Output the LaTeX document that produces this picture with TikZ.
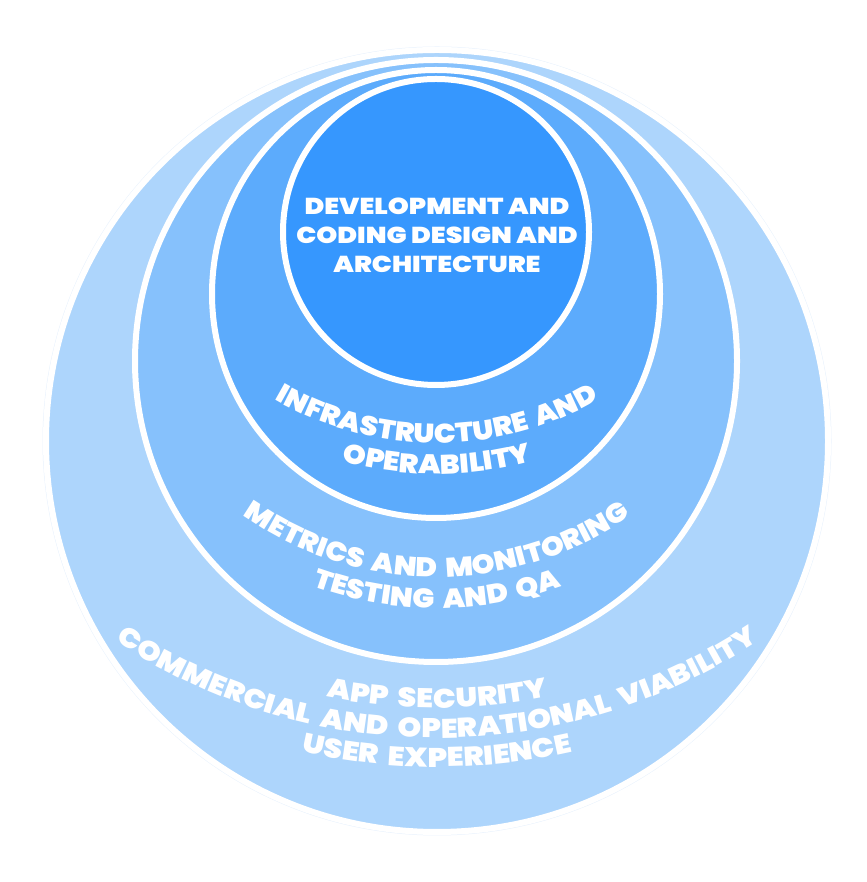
\documentclass[tikz,border=0pt]{standalone}
\usepackage{fontspec}
\IfFontExistsTF{Poppins ExtraBold}
  {\newfontfamily\labelfamily{Poppins ExtraBold}[FakeStretch=1.08,LetterSpace=7,WordSpace=1.3]
   \newfontfamily\bizfamily{Poppins ExtraBold}[FakeStretch=1.12,LetterSpace=9,WordSpace=1.3]
   \newfontfamily\corefamily{Poppins ExtraBold}[FakeStretch=1.16]}
  {\newfontfamily\labelfamily{Poppins}[FakeStretch=1.08,LetterSpace=7,WordSpace=1.3,BoldFeatures={FakeBold=0.6}]
   \newfontfamily\bizfamily{Poppins}[FakeStretch=1.12,LetterSpace=9,WordSpace=1.3,BoldFeatures={FakeBold=0.6}]
   \newfontfamily\corefamily{Poppins}[FakeStretch=1.16,BoldFeatures={FakeBold=0.6}]}
\usepackage{xcolor}
\usepackage{tikz}
\usetikzlibrary{decorations.text}
\definecolor{coreblue}{RGB}{54,151,254}
\definecolor{opsblue}{RGB}{92,171,252}
\definecolor{qablue}{RGB}{134,193,252}
\definecolor{bizblue}{RGB}{173,213,252}
\definecolor{haloblue}{RGB}{232,242,253}
\newcommand{\ringfont}{\labelfamily\bfseries\fontsize{27}{27}\selectfont}
\newcommand{\bizfont}{\bizfamily\bfseries\fontsize{27}{27}\selectfont}
\newcommand{\corefont}{\corefamily\bfseries\fontsize{23}{29}\selectfont}

\begin{document}
\begin{tikzpicture}[x=1pt,y=1pt,
    ring/.style={draw=white,line width=6pt},
    arclabel/.style={decorate,decoration={text along path,text align=center,text={|\ringfont\color{white}|#1}}},
    bizlabel/.style={decorate,decoration={text along path,text align=center,text={|\bizfont\color{white}|#1}}}]
    \useasboundingbox (0,0) rectangle (866,882);

    % Centres of the rings
    \coordinate (cBiz) at (437,441);
    \coordinate (cQa) at (436,521);
    \coordinate (cOps) at (436,588);
    \coordinate (cCore) at (436,650);

    % Rings, largest first
    \draw[haloblue,line width=1pt] (cBiz) circle[radius=394];
    \filldraw[ring,fill=bizblue] (cBiz) circle[radius=391];
    \filldraw[ring,fill=qablue] (cQa) circle[radius=301];
    \filldraw[ring,fill=opsblue] (cOps) circle[radius=224];
    \filldraw[ring,fill=coreblue] (cCore) circle[radius=153];

    % Core label
    \node[align=center,text=white,font=\corefont] (core) at (437,647) {DEVELOPMENT AND\\CODING DESIGN AND\\ARCHITECTURE};

    % Infrastructure ring labels
    \coordinate (tOps) at (437,762);
    \path[shift={(tOps)},arclabel={INFRASTRUCTURE AND}] (200:323) arc[start angle=200,end angle=340,radius=323];
    \path[shift={(tOps)},arclabel={OPERABILITY}] (200:354) arc[start angle=200,end angle=340,radius=354];

    % Testing ring labels
    \coordinate (tQa) at (437,642);
    \path[shift={(tQa)},arclabel={METRICS AND MONITORING}] (200:337) arc[start angle=200,end angle=340,radius=337];
    \path[shift={(tQa)},arclabel={TESTING AND QA}] (200:368) arc[start angle=200,end angle=340,radius=368];

    % Outer ring labels
    \coordinate (tBiz) at (437,725);
    \path[shift={(tBiz)},bizlabel={APP SECURITY}] (220:551) arc[start angle=220,end angle=320,radius=551];
    \path[shift={(tBiz)},bizlabel={COMMERCIAL AND OPERATIONAL VIABILITY}] (220:581) arc[start angle=220,end angle=320,radius=581];
    \path[shift={(tBiz)},bizlabel={USER EXPERIENCE}] (220:610) arc[start angle=220,end angle=320,radius=610];
\end{tikzpicture}
\end{document}
